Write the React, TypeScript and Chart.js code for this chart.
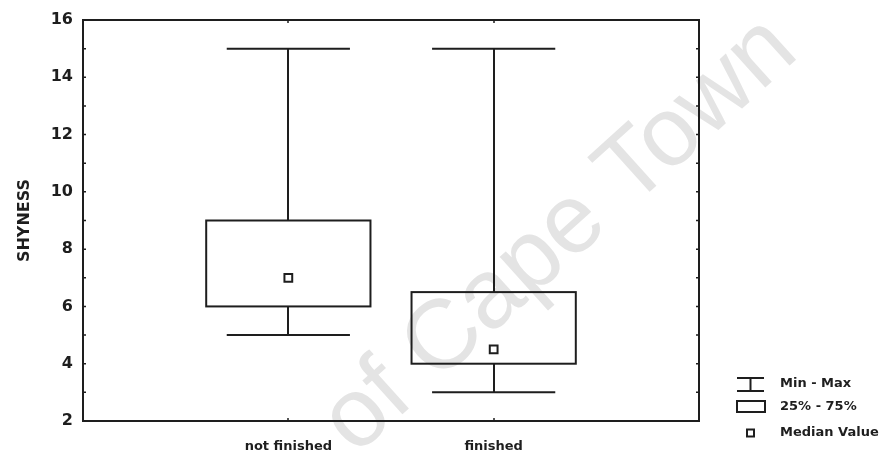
import React, { useEffect, useRef } from "react";
import { Chart, registerables } from "chart.js";

Chart.register(...registerables);

// ---- data ----
const categories = ["not finished", "finished"];
const minValues = [5, 3];
const q1Values = [6, 4];
const medianValues = [7, 4.5];
const q3Values = [9, 6.5];
const maxValues = [15, 15];
const yTickValues = [2, 4, 6, 8, 10, 12, 14, 16];
const legendLabels = ["Min - Max", "25% - 75%", "Median Value"];
const yTitle = "SHYNESS";
const watermarkText = "of Cape Town";

// ---- styles ----
const INK = "#1e1e1e";
const BOX_HALF = 0.4; // in x-axis units
const CAP_HALF = 0.3;
const FONT = '"DejaVu Sans", sans-serif';

const boxPlugin = {
  id: "boxplotDraw",
  beforeDraw(chart: any) {
    const { ctx } = chart;
    ctx.save();
    ctx.fillStyle = "#fff";
    ctx.fillRect(0, 0, chart.width, chart.height);
    ctx.translate(560, 236);
    ctx.rotate((-42 * Math.PI) / 180);
    ctx.font = '98px "Liberation Sans", Arial, sans-serif';
    ctx.fillStyle = "#e4e4e4";
    ctx.textAlign = "center";
    ctx.textBaseline = "middle";
    ctx.fillText(watermarkText, 0, 0);
    ctx.restore();
  },
  beforeDatasetsDraw(chart: any) {
    const { ctx, chartArea, scales } = chart;
    const x = scales.x;
    const y = scales.y;
    ctx.save();
    ctx.strokeStyle = INK;
    ctx.lineWidth = 2;
    ctx.lineCap = "butt";
    categories.forEach((_, i) => {
      const cx = Math.round(x.getPixelForValue(i + 1));
      const bl = x.getPixelForValue(i + 1 - BOX_HALF);
      const br = x.getPixelForValue(i + 1 + BOX_HALF);
      const cl = x.getPixelForValue(i + 1 - CAP_HALF);
      const cr = x.getPixelForValue(i + 1 + CAP_HALF);
      const yMin = y.getPixelForValue(minValues[i]);
      const yMax = y.getPixelForValue(maxValues[i]);
      const yQ1 = y.getPixelForValue(q1Values[i]);
      const yQ3 = y.getPixelForValue(q3Values[i]);
      ctx.beginPath();
      ctx.moveTo(cx, yMax);
      ctx.lineTo(cx, yQ3);
      ctx.moveTo(cx, yQ1);
      ctx.lineTo(cx, yMin);
      ctx.moveTo(cl, yMax);
      ctx.lineTo(cr, yMax);
      ctx.moveTo(cl, yMin);
      ctx.lineTo(cr, yMin);
      ctx.stroke();
      ctx.strokeRect(bl, yQ3, br - bl, yQ1 - yQ3);
    });
    // frame
    const { left, right, top, bottom } = chartArea;
    ctx.strokeRect(left, top, right - left, bottom - top);
    // inward ticks
    ctx.lineWidth = 1.5;
    ctx.beginPath();
    for (let v = y.min; v <= y.max; v += 1) {
      const py = y.getPixelForValue(v);
      ctx.moveTo(left, py);
      ctx.lineTo(left + 3, py);
      ctx.moveTo(right, py);
      ctx.lineTo(right - 3, py);
    }
    categories.forEach((_, i) => {
      const px = Math.round(x.getPixelForValue(i + 1));
      ctx.moveTo(px, top);
      ctx.lineTo(px, top + 3);
      ctx.moveTo(px, bottom);
      ctx.lineTo(px, bottom - 3);
    });
    ctx.stroke();
    ctx.restore();
  },
  afterDraw(chart: any) {
    const { ctx } = chart;
    ctx.save();
    ctx.strokeStyle = INK;
    ctx.fillStyle = INK;
    ctx.lineWidth = 2;
    const sx = 737;
    const tx = 780;
    const rows = [384, 407, 433];
    // Min - Max symbol
    ctx.beginPath();
    ctx.moveTo(sx, 378);
    ctx.lineTo(sx + 27, 378);
    ctx.moveTo(sx, 391);
    ctx.lineTo(sx + 27, 391);
    ctx.moveTo(sx + 13.5, 378);
    ctx.lineTo(sx + 13.5, 391);
    ctx.stroke();
    // box symbol
    ctx.strokeRect(sx, 401, 28, 11);
    // median symbol
    ctx.fillStyle = "#fff";
    ctx.fillRect(sx + 10, rows[2] - 3.5, 7, 7);
    ctx.strokeRect(sx + 10, rows[2] - 3.5, 7, 7);
    ctx.fillStyle = INK;
    ctx.font = `bold 13px ${FONT}`;
    ctx.textAlign = "left";
    ctx.textBaseline = "middle";
    legendLabels.forEach((t, i) => ctx.fillText(t, tx, rows[i]));
    ctx.restore();
  },
};

export default function App() {
  const ref = useRef<HTMLCanvasElement>(null);
  useEffect(() => {
    if (!ref.current) return;
    const chart = new Chart(ref.current, {
      type: "scatter",
      data: {
        datasets: [
          {
            label: "Median Value",
            data: medianValues.map((v, i) => ({ x: i + 1, y: v })),
            pointStyle: "rect",
            pointRadius: 5.5,
            pointBorderWidth: 2,
            borderColor: INK,
            backgroundColor: "#fff",
          },
        ],
      },
      plugins: [boxPlugin],
      options: {
        animation: false,
        responsive: false,
        layout: { padding: { top: 20, right: 188, left: 0, bottom: 0 } },
        plugins: {
          legend: { display: false },
          tooltip: { enabled: false },
        },
        scales: {
          x: {
            type: "linear",
            min: 0,
            max: 3,
            grid: { display: false, drawTicks: false },
            border: { display: false },
            afterBuildTicks: (s: any) => {
              s.ticks = categories.map((_, i) => ({ value: i + 1 }));
            },
            afterFit: (s: any) => {
              s.height = 34;
            },
            ticks: {
              padding: 18,
              color: INK,
              font: { family: FONT, size: 13, weight: "bold" },
              callback: (v: any) => categories[Number(v) - 1] ?? "",
            },
          },
          y: {
            min: 2,
            max: 16,
            grid: { display: false, drawTicks: false },
            border: { display: false },
            afterBuildTicks: (s: any) => {
              s.ticks = yTickValues.map((v) => ({ value: v }));
            },
            afterFit: (s: any) => {
              s.width = 83;
            },
            ticks: {
              padding: 10,
              color: INK,
              font: { family: FONT, size: 16, weight: "bold" },
            },
            title: {
              display: true,
              text: yTitle,
              color: INK,
              padding: { top: 15, bottom: 0 },
              font: { family: FONT, size: 16, weight: "bold" },
            },
          },
        },
      },
    });
    return () => chart.destroy();
  }, []);
  return (
    <div style={{ position: "absolute", left: 0, top: 0, width: 887, height: 455, background: "#fff" }}>
      <canvas ref={ref} width={887} height={455} />
    </div>
  );
}
